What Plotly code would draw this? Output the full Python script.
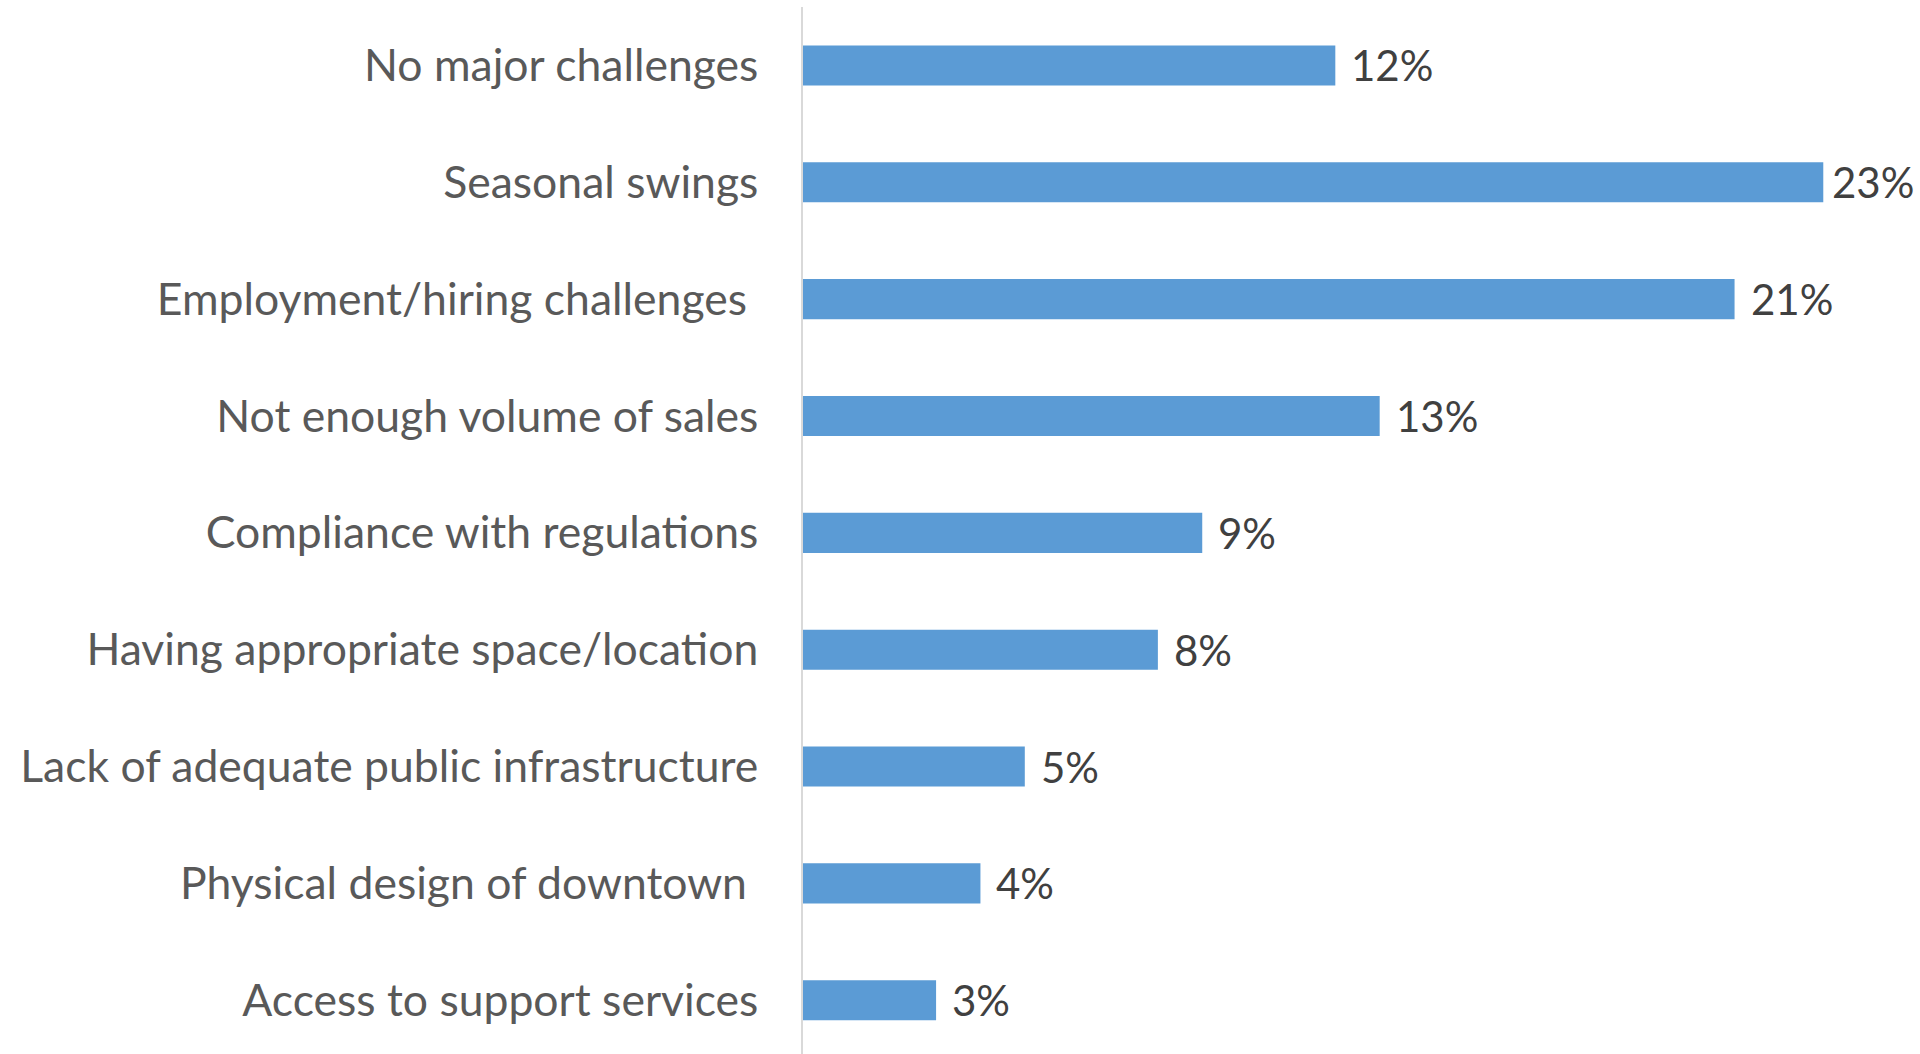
import plotly.graph_objects as go

# Survey: biggest challenges reported by downtown businesses
categories = [
    "No major challenges",
    "Seasonal swings",
    "Employment/hiring challenges\u00a0",
    "Not enough volume of sales",
    "Compliance with regulations",
    "Having appropriate space/location",
    "Lack of adequate public infrastructure",
    "Physical design of downtown\u00a0",
    "Access to support services",
]
shares = [12, 23, 21, 13, 9, 8, 5, 4, 3]
value_labels = [f"{v}%" for v in shares]

BAR_COLOR = "#5B9BD5"
FONT = "Lato, 'Open Sans', sans-serif"
X_MAX = 25

fig = go.Figure(
    go.Bar(
        x=shares,
        y=categories,
        orientation="h",
        marker=dict(color=BAR_COLOR, line=dict(width=0)),
        hoverinfo="skip",
    )
)

# value labels placed just past the end of each bar; the longest bar's
# label is pulled in a little so it stays inside the page
for cat, v, lab in zip(categories, shares, value_labels):
    fig.add_annotation(
        x=v, y=cat, text=lab, showarrow=False,
        xanchor="left", yanchor="middle",
        xshift=14 if v < max(shares) else 7,
        font=dict(family=FONT, size=42, color="#404040"),
    )

fig.update_layout(
    width=1920,
    height=1054,
    margin=dict(l=803, r=8, t=7, b=0),
    paper_bgcolor="white",
    plot_bgcolor="white",
    bargap=0.657,
    showlegend=False,
    font=dict(family=FONT),
)
fig.update_xaxes(
    range=[0, X_MAX], visible=False, showgrid=False, zeroline=False,
)
fig.update_yaxes(
    type="category",
    categoryorder="array",
    categoryarray=categories,
    range=[8.46, -0.5],
    showgrid=False,
    zeroline=False,
    showline=True,
    linecolor="#d9d9d9",
    linewidth=1.5,
    ticks="",
    ticklabelstandoff=34,
    tickfont=dict(family=FONT, size=44.5, color="#595959"),
)

fig.write_html("out.html")
